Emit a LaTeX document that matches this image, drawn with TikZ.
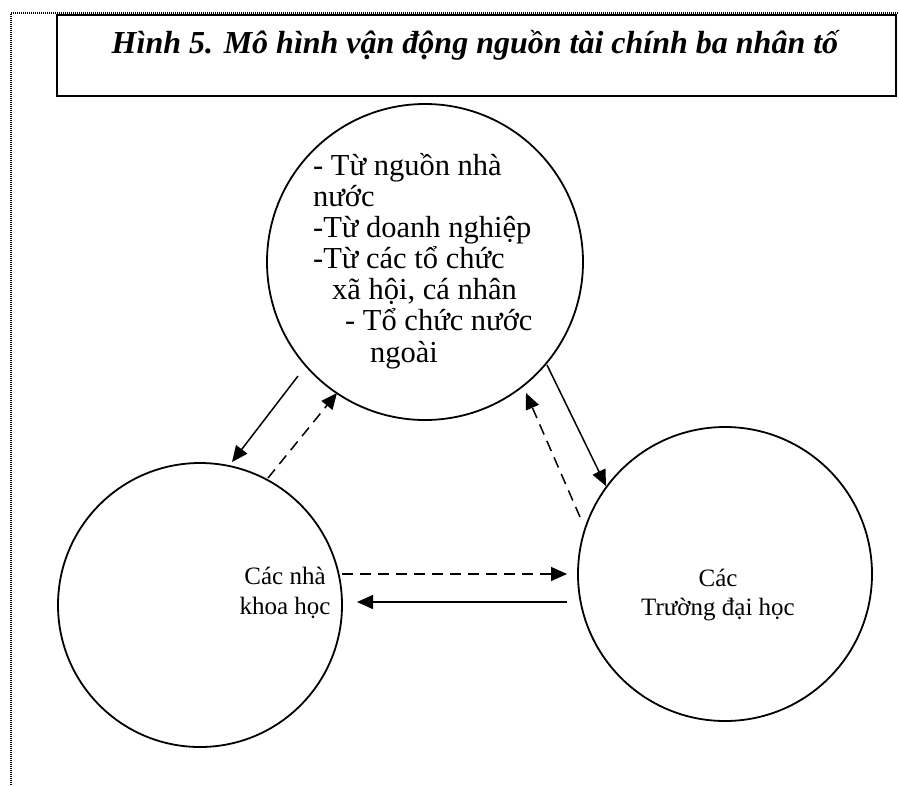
\documentclass[tikz,border=0pt]{standalone}
\usepackage{fontspec}
\setmainfont{Liberation Serif}
\usetikzlibrary{arrows.meta}
\begin{document}
\begin{tikzpicture}[x=1pt,y=-1pt,
  circ/.style={circle, draw, line width=1.8pt, minimum size=#1, inner sep=0pt},
  lbl/.style={font=\fontsize{30.5}{31}\selectfont, inner sep=0pt, anchor=base west},
  clbl/.style={font=\fontsize{25}{30}\selectfont, inner sep=0pt, anchor=base},
  conn/.style={line width=1.5pt, -{Triangle[length=16pt,width=14pt]}},
  dconn/.style={conn, dash pattern=on 11pt off 7pt},
]
\useasboundingbox (0,0) rectangle (899,785);
\draw[line width=1.3pt, dash pattern=on 1pt off 1pt] (11,785) -- (11,13) -- (899,13);
\node[draw, line width=2pt, minimum width=839pt, minimum height=81pt, anchor=north west, inner sep=0pt] (title) at (56,14) {};
\node[font=\fontsize{32}{36}\selectfont\bfseries\itshape, anchor=base, inner sep=0pt] (ttext) at (475,53) {Hình 5. Mô hình vận động nguồn tài chính ba nhân tố};
% circles
\node[circ=316pt] (T) at (425,262) {};
\node[circ=284pt] (L) at (200,605) {};
\node[circ=294pt] (R) at (725,574) {};
% top circle text
\node[lbl] (t1) at (313,175) {- Từ nguồn nhà};
\node[lbl] (t2) at (313,206) {nước};
\node[lbl] (t3) at (313,237) {-Từ doanh nghiệp};
\node[lbl] (t4) at (313,268) {-Từ các tổ chức};
\node[lbl] (t5) at (332,299) {xã hội, cá nhân};
\node[lbl] (t6) at (345,330) {- Tổ chức nước};
\node[lbl] (t7) at (370,362) {ngoài};
% lower circle text
\node[clbl] (l1) at (285,584) {Các nhà};
\node[clbl] (l2) at (285,614) {khoa học};
\node[clbl] (r1) at (718,586) {Các};
\node[clbl] (r2) at (718,615) {Trường đại học};
% connectors
\coordinate (a1s) at (298,376); \coordinate (a1e) at (232,462);
\coordinate (a2s) at (268,478); \coordinate (a2e) at (337,393);
\coordinate (a3s) at (547,365); \coordinate (a3e) at (606,486);
\coordinate (a4s) at (580,517); \coordinate (a4e) at (526,393);
\coordinate (a5s) at (342,574); \coordinate (a5e) at (567,574);
\coordinate (a6s) at (567,602); \coordinate (a6e) at (357,602);
\draw[conn] (a1s) -- (a1e);
\draw[dconn] (a2s) -- (a2e);
\draw[conn] (a3s) -- (a3e);
\draw[dconn] (a4s) -- (a4e);
\draw[dconn] (a5s) -- (a5e);
\draw[conn] (a6s) -- (a6e);
\end{tikzpicture}
\end{document}
